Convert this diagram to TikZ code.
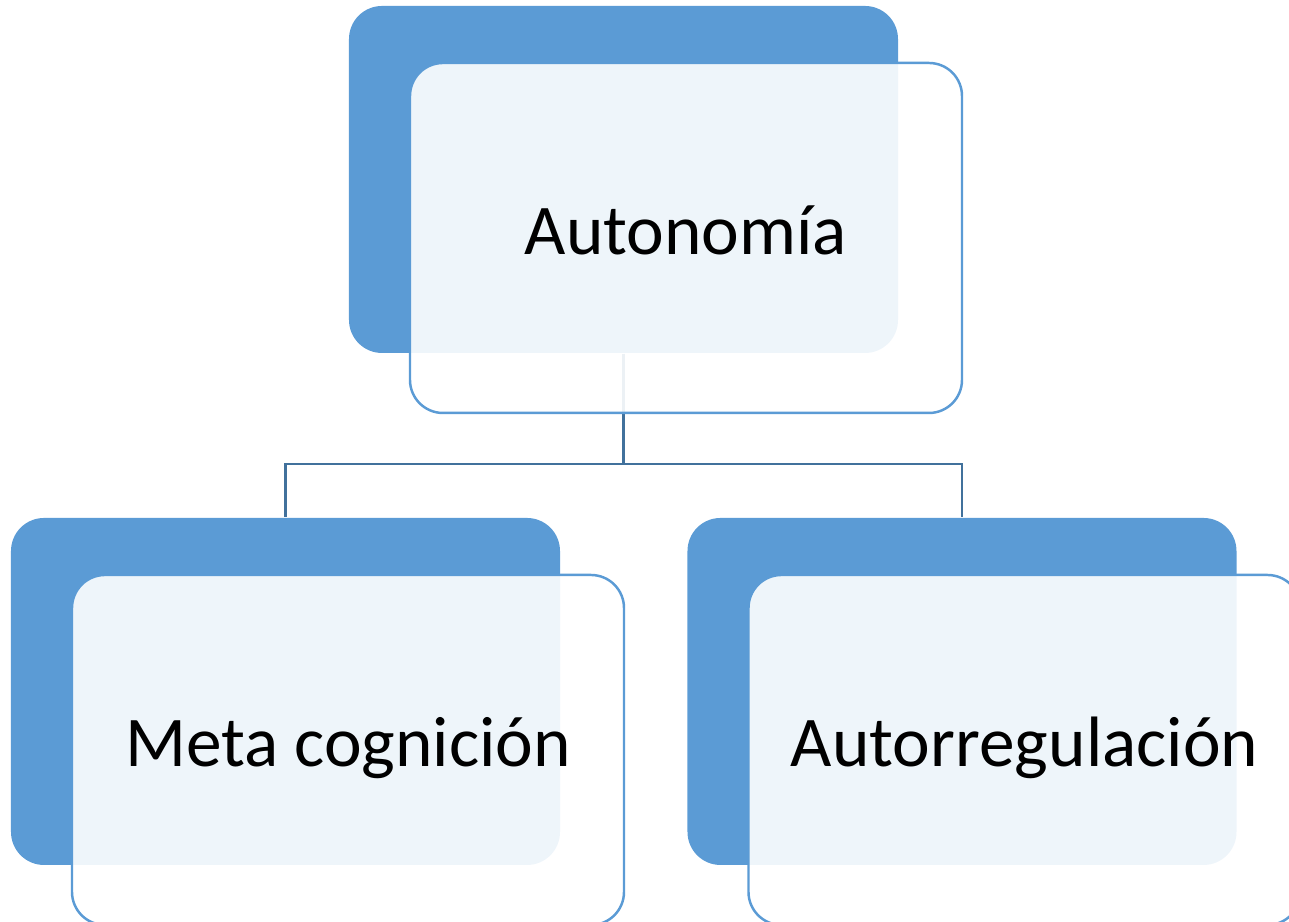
\documentclass[tikz,border=0pt]{standalone}
\usepackage{fontspec}
\setmainfont{Carlito}
\usepackage{tikz}
\usetikzlibrary{calc,positioning,backgrounds}
\definecolor{azul}{RGB}{91,155,213}
\definecolor{azuloscuro}{RGB}{65,113,156}

\begin{document}
\begin{tikzpicture}[
        atras/.style={fill=azul, rounded corners=0.33cm, minimum width=5.49cm, minimum height=3.47cm, inner sep=0pt},
        frente/.style={draw=azul, line width=0.7pt, fill=white, fill opacity=0.9, text opacity=1, rounded corners=0.33cm, minimum width=5.52cm, minimum height=3.5cm, inner sep=0pt, font=\fontsize{20.3}{24}\selectfont, text height=1.1em, text depth=0.18em},
        conector/.style={draw=azuloscuro, line width=0.6pt}]
        %MARCO
        \useasboundingbox (0,0) rectangle (12.89,9.22);
        %CAJAS ATRAS
        \node[atras] (autonomia) at (6.235,7.425) {};
        \node[atras] (meta) at (2.855,2.305) {};
        \node[atras] (autorreg) at (9.62,2.305) {};
        %CAJAS FRENTE
        \node[frente] (autonomiaF) at ($(autonomia)+(0.625,-0.585)$) {Autonomía};
        \node[frente] (metaF) at ($(meta)+(0.625,-0.585)$) {Meta cognición};
        \node[frente] (autorregF) at ($(autorreg)+(0.625,-0.585)$) {Autorregulación};
        %CONECTORES
        \begin{scope}[on background layer]
            \draw[conector] (autonomia.south) -- ++(0,-1.1) coordinate (union) -| (meta.north);
            \draw[conector] (union) -| (autorreg.north);
        \end{scope}
    \end{tikzpicture}
\end{document}
